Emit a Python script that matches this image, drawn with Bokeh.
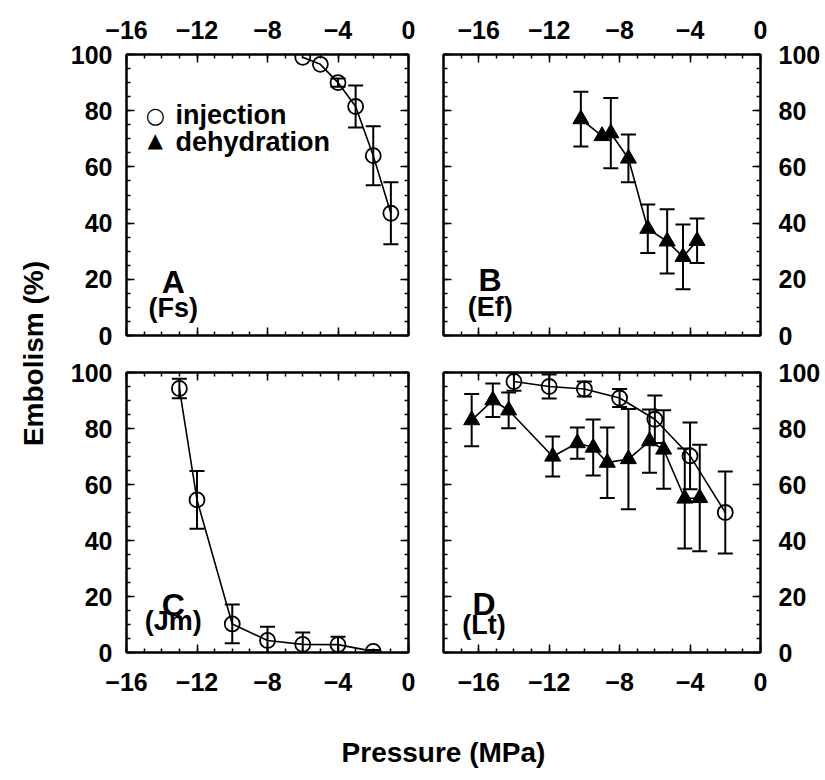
import numpy as np
from bokeh.plotting import figure
from bokeh.layouts import row, column
from bokeh.models import (Range1d, LinearAxis, SingleIntervalTicker, Whisker, TeeHead,
                          ColumnDataSource, Label)
from bokeh.embed import file_html
from bokeh.resources import INLINE

FONT = "Liberation Sans"

# ---------------- data ----------------
# Panel A (Fs) - injection
a_inj_x = [-6, -5, -4, -3, -2, -1]
a_inj_y = [99, 96.5, 90, 81.5, 64, 43.5]
a_inj_e = [0, 0, 1.5, 7.5, 10.5, 11]

# Panel B (Ef) - dehydration
b_deh_x = [-10.2, -9.0, -8.5, -7.5, -6.4, -5.3, -4.4, -3.6]
b_deh_y = [77, 71, 72, 63, 38, 33.5, 28, 33.7]
b_deh_e = [9.7, 0, 12.5, 8.5, 8.6, 11.4, 11.5, 7.9]

# Panel C (Jm) - injection
c_inj_x = [-13, -12, -10, -8, -6, -4, -2]
c_inj_y = [94.3, 54.5, 10.2, 4.3, 2.9, 2.8, 0.4]
c_inj_e = [3.5, 10.3, 6.9, 4.9, 4.2, 2.8, 0.5]

# Panel D (Lt) - injection and dehydration
d_inj_x = [-14, -12, -10, -8, -6, -4, -2]
d_inj_y = [96.8, 95, 94.1, 90.9, 83.3, 70.2, 50]
d_inj_e = [3.3, 4.3, 2.7, 3.2, 8.5, 11.9, 14.6]

d_deh_x = [-16.4, -15.2, -14.3, -11.8, -10.4, -9.5, -8.7, -7.5, -6.3, -5.5, -4.3, -3.45]
d_deh_y = [83, 90.1, 86.5, 70, 74.8, 73.2, 67.8, 69.1, 75.5, 72.5, 55, 55.2]
d_deh_e = [9.3, 6, 6.4, 7.1, 5.6, 10, 12.6, 17.9, 11.3, 14, 17.9, 19]

x_ticks_interval = 4
y_ticks_interval = 20
panel_letters = ["A", "B", "C", "D"]
panel_species = ["(Fs)", "(Ef)", "(Jm)", "(Lt)"]
legend_labels = ["injection", "dehydration"]
x_title = "Pressure (MPa)"
y_title = "Embolism (%)"

TICK_FS = "25px"


def add_axis(p, side, show, standoff=14):
    if side in ("left", "right"):
        ticker = SingleIntervalTicker(interval=y_ticks_interval, num_minor_ticks=4)
    else:
        ticker = SingleIntervalTicker(interval=x_ticks_interval, num_minor_ticks=4)
    ax = LinearAxis(ticker=ticker)
    ax.axis_line_color = "black"
    ax.axis_line_width = 2
    ax.major_tick_in = 8
    ax.major_tick_out = 0
    ax.minor_tick_in = 4
    ax.minor_tick_out = 0
    ax.major_tick_line_color = "black"
    ax.minor_tick_line_color = "black"
    ax.major_tick_line_width = 1.5
    ax.minor_tick_line_width = 1.5
    if show:
        ax.major_label_text_font = FONT
        ax.major_label_text_font_size = TICK_FS
        ax.major_label_text_font_style = "bold"
        ax.major_label_text_color = "black"
        ax.major_label_standoff = standoff
    else:
        ax.major_label_text_font_size = "0px"
        ax.major_label_text_color = None
        ax.major_label_standoff = 0
    p.add_layout(ax, side)


def make_panel(xmin, fw, fh, bl, br, bt, bb, labels):
    p = figure(x_range=Range1d(xmin, 0), y_range=Range1d(0, 100),
               frame_width=fw, frame_height=fh,
               min_border_left=bl, min_border_right=br,
               min_border_top=bt, min_border_bottom=bb,
               x_axis_location=None, y_axis_location=None,
               toolbar_location=None, output_backend="svg",
               background_fill_color="white", border_fill_color="white",
               outline_line_color="black", outline_line_width=2)
    p.grid.visible = False
    add_axis(p, "left", labels["left"], 14)
    add_axis(p, "right", labels["right"], 18)
    add_axis(p, "above", labels["above"], 16)
    add_axis(p, "below", labels["below"], 20)
    return p


def add_series(p, xs, ys, es, marker):
    p.line(xs, ys, line_color="black", line_width=1.6)
    keep = [i for i, e in enumerate(es) if e > 0]
    src = ColumnDataSource(dict(
        x=[xs[i] for i in keep],
        lo=[ys[i] - es[i] for i in keep],
        hi=[ys[i] + es[i] for i in keep]))
    w = Whisker(source=src, base="x", lower="lo", upper="hi",
                line_color="black", line_width=2,
                upper_head=TeeHead(size=15, line_color="black", line_width=2),
                lower_head=TeeHead(size=15, line_color="black", line_width=2))
    p.add_layout(w)
    if marker == "circle":
        p.scatter(xs, ys, marker="circle", size=15, fill_color=None,
                  line_color="black", line_width=1.8)
    else:
        p.scatter(xs, ys, marker="triangle", size=16, fill_color="black",
                  line_color="black", line_width=1)


def add_tag(p, x, y1, y2, letter, species):
    p.add_layout(Label(x=x, y=y1, text=letter, text_font=FONT, text_font_size="32px",
                       text_font_style="bold", text_align="center",
                       text_baseline="middle", text_color="black"))
    p.add_layout(Label(x=x, y=y2, text=species, text_font=FONT, text_font_size="27px",
                       text_font_style="bold", text_align="center",
                       text_baseline="middle", text_color="black"))


pA = make_panel(-16, 282, 281, 66, 17, 54, 18,
                dict(left=True, right=False, above=True, below=False))
pB = make_panel(-18, 317, 281, 18, 65, 54, 18,
                dict(left=False, right=True, above=True, below=False))
pC = make_panel(-16, 282, 280, 66, 17, 19, 50,
                dict(left=True, right=False, above=False, below=True))
pD = make_panel(-18, 317, 280, 18, 65, 19, 50,
                dict(left=False, right=True, above=False, below=True))

add_series(pA, a_inj_x, a_inj_y, a_inj_e, "circle")
add_series(pB, b_deh_x, b_deh_y, b_deh_e, "triangle")
add_series(pC, c_inj_x, c_inj_y, c_inj_e, "circle")
add_series(pD, d_inj_x, d_inj_y, d_inj_e, "circle")
add_series(pD, d_deh_x, d_deh_y, d_deh_e, "triangle")

add_tag(pA, -13.35, 19.0, 9.8, panel_letters[0], panel_species[0])
add_tag(pB, -15.35, 19.7, 10.0, panel_letters[1], panel_species[1])
add_tag(pC, -13.35, 16.9, 11.4, panel_letters[2], panel_species[2])
add_tag(pD, -15.7, 17.3, 9.8, panel_letters[3], panel_species[3])

# legend in panel A
pA.add_layout(Label(x=-14.37, y=78.4, text="○", text_font="DejaVu Sans",
                    text_font_size="22px", text_align="center", text_baseline="middle",
                    text_color="black"))
pA.add_layout(Label(x=-14.37, y=69.6, text="▲", text_font="DejaVu Sans",
                    text_font_size="20px", text_align="center", text_baseline="middle",
                    text_color="black"))
pA.add_layout(Label(x=-13.22, y=78.5, text=legend_labels[0], text_font=FONT,
                    text_font_size="27px", text_font_style="bold", text_align="left",
                    text_baseline="middle", text_color="black"))
pA.add_layout(Label(x=-13.22, y=68.7, text=legend_labels[1], text_font=FONT,
                    text_font_size="27px", text_font_style="bold", text_align="left",
                    text_baseline="middle", text_color="black"))


def title_fig(w, h, x0, x1, y0, y1):
    f = figure(width=w, height=h, x_range=Range1d(x0, x1), y_range=Range1d(y1, y0),
               min_border=0, x_axis_location=None, y_axis_location=None,
               toolbar_location=None, output_backend="svg",
               outline_line_color=None, background_fill_color="white",
               border_fill_color="white")
    f.grid.visible = False
    return f


yt = title_fig(60, 780, 0, 60, 0, 780)
yt.add_layout(Label(x=33, y=353, text=y_title, angle=np.pi / 2, text_font=FONT,
                    text_font_size="28px", text_font_style="bold", text_align="center",
                    text_baseline="middle", text_color="black"))

xt = title_fig(765, 78, 60, 825, 702, 780)
xt.add_layout(Label(x=443, y=752, text=x_title, text_font=FONT,
                    text_font_size="28px", text_font_style="bold", text_align="center",
                    text_baseline="middle", text_color="black"))

layout = row(yt, column(row(pA, pB), row(pC, pD), xt))

open("out.html", "w").write(file_html(layout, INLINE))
